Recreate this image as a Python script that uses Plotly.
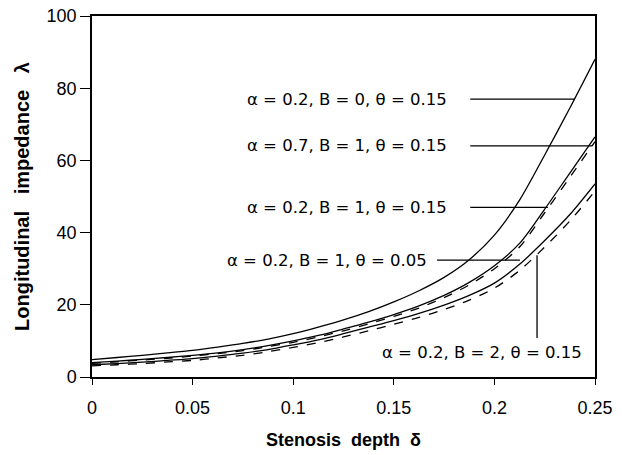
import plotly.graph_objects as go

# Stenosis depth (x values)
delta = [0, 0.0125, 0.025, 0.0375, 0.05, 0.0625, 0.075, 0.0875, 0.1, 0.1125, 0.125,
         0.1375, 0.15, 0.1625, 0.175, 0.1875, 0.2, 0.2125, 0.225, 0.2375, 0.25]

# Longitudinal impedance for each parameter set
imp_a02_B0_t015 = [4.8, 5.4, 6.0, 6.7, 7.4, 8.3, 9.3, 10.5, 12.0, 13.8, 15.8,
                   18.1, 20.8, 23.9, 27.6, 32.5, 39.3, 49.0, 61.5, 74.5, 88.0]
imp_a07_B1_t015 = [4.0, 4.4, 4.9, 5.4, 6.0, 6.7, 7.6, 8.7, 10.0, 11.5, 13.3,
                   15.2, 17.3, 19.7, 22.6, 26.2, 30.8, 37.0, 46.5, 56.5, 66.5]
imp_a02_B1_t015 = [3.8, 4.2, 4.7, 5.2, 5.8, 6.5, 7.3, 8.4, 9.6, 11.1, 12.8,
                   14.7, 16.8, 19.1, 22.0, 25.5, 30.0, 36.0, 45.5, 55.3, 65.2]
imp_a02_B1_t005 = [3.4, 3.7, 4.1, 4.6, 5.1, 5.8, 6.6, 7.6, 8.9, 10.3, 12.0,
                   13.8, 15.6, 17.6, 19.9, 22.6, 26.0, 31.2, 37.8, 45.0, 53.5]
imp_a02_B2_t015 = [3.1, 3.4, 3.7, 4.2, 4.6, 5.3, 6.0, 7.0, 8.2, 9.5, 11.1,
                   12.8, 14.6, 16.5, 18.7, 21.3, 24.6, 29.5, 36.0, 43.2, 51.5]

series_names = ["α = 0.2, B = 0, θ = 0.15", "α = 0.7, B = 1, θ = 0.15",
                "α = 0.2, B = 1, θ = 0.15", "α = 0.2, B = 1, θ = 0.05",
                "α = 0.2, B = 2, θ = 0.15"]
series_values = [imp_a02_B0_t015, imp_a07_B1_t015, imp_a02_B1_t015,
                 imp_a02_B1_t005, imp_a02_B2_t015]
series_dash = ["solid", "solid", "dash", "solid", "dash"]

x_tickvals = [0, 0.05, 0.1, 0.15, 0.2, 0.25]
x_ticktext = ["0", "0.05", "0.1", "0.15", "0.2", "0.25"]
y_tickvals = [0, 20, 40, 60, 80, 100]

# Label anchors (data coords) and leader lines (data coords)
label_x = [0.076, 0.076, 0.076, 0.0661, 0.1431]
label_y = [77, 64, 47, 32.4, 6.9]
leader_x0 = [0.188, 0.188, 0.188, 0.1715, 0.2212]
leader_x1 = [0.240, 0.2485, 0.2266, 0.2127, 0.2212]
leader_y0 = [77, 64, 47, 32.4, 10.8]
leader_y1 = [77, 64, 47, 32.4, 33.7]

fig = go.Figure()
for name, vals, dash in zip(series_names, series_values, series_dash):
    fig.add_trace(go.Scatter(x=delta, y=vals, mode="lines", name=name,
                             line=dict(color="black", width=1.3, dash=dash, shape="spline",
                                       smoothing=0.8),
                             showlegend=False))

for lx, ly, txt in zip(label_x, label_y, series_names):
    fig.add_annotation(x=lx, y=ly, text=txt, showarrow=False, xanchor="left", yanchor="middle",
                       font=dict(family="DejaVu Sans", size=16.5, color="black"))

for x0, x1, y0, y1 in zip(leader_x0, leader_x1, leader_y0, leader_y1):
    fig.add_shape(type="line", x0=x0, x1=x1, y0=y0, y1=y1, xref="x", yref="y",
                  line=dict(color="black", width=1.3))

fig.update_layout(
    width=622, height=455,
    margin=dict(l=92, r=27, t=16, b=78),
    paper_bgcolor="white", plot_bgcolor="white",
    font=dict(family="Liberation Sans", color="black"),
)
fig.update_xaxes(range=[0, 0.25], tickvals=x_tickvals, ticktext=x_ticktext, automargin=False,
                 showgrid=False, zeroline=False, showline=True, linecolor="black", linewidth=1.5,
                 mirror=True, ticks="outside", ticklen=6, tickcolor="black",
                 tickfont=dict(family="Liberation Sans", size=18),
                 ticklabelstandoff=8,
                 title=dict(text="Stenosis  depth  δ", standoff=16,
                            font=dict(family="Liberation Sans", size=18, weight="bold")))
fig.update_yaxes(range=[0, 100], tickvals=y_tickvals, automargin=False,
                 showgrid=False, zeroline=False, showline=True, linecolor="black", linewidth=1.5,
                 mirror=True, ticks="outside", ticklen=10, tickcolor="black",
                 tickfont=dict(family="Liberation Sans", size=18),
                 title=dict(text="Longitudinal   impedance   λ", standoff=12,
                            font=dict(family="Liberation Sans", size=20, weight="bold")))

fig.write_html("out.html")
